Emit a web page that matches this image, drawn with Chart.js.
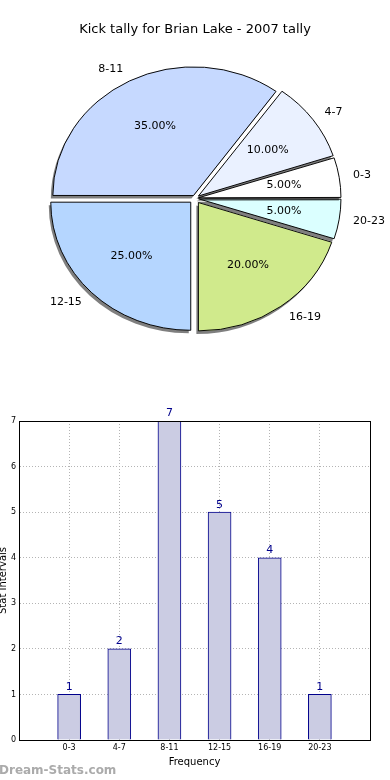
<!DOCTYPE html>
<html>
<head>
<meta charset="utf-8">
<script src="https://cdn.jsdelivr.net/npm/chart.js@4.4.0/dist/chart.umd.min.js"></script>
<style>
  html, body { margin: 0; padding: 0; background: #fff; }
  body { width: 390px; height: 780px; position: relative; overflow: hidden; }
  #pieWrap { position: absolute; left: 0; top: 0; width: 390px; height: 396px; }
  #barWrap { position: absolute; left: 0; top: 400px; width: 390px; height: 380px; }
  #mark { position: absolute; left: -1px; top: 763px; font: bold 12px 'DejaVu Sans', sans-serif; color: #ababab; }
</style>
</head>
<body>
<div id="pieWrap"><canvas id="pieChart"></canvas></div>
<div id="barWrap"><canvas id="barChart"></canvas></div>
<div id="mark">Dream-Stats.com</div>
<script>
// Kick tally data (matplotlib order: counter-clockwise from 3 o'clock)
const categories = ['0-3', '4-7', '8-11', '12-15', '16-19', '20-23'];
const kickCounts = [1, 2, 7, 5, 4, 1];
const yTicks = [0, 1, 2, 3, 4, 5, 6, 7];

const chartTitle = 'Kick tally for Brian Lake - 2007 tally';

Chart.defaults.font.family = "'DejaVu Sans', sans-serif";
Chart.defaults.color = '#000';
Chart.defaults.animation = false;

// slice colours and explode distance, same order as categories
const sliceColors = ['#ffffff', '#eaf1ff', '#c6d9ff', '#b5d6ff', '#d0ea8c', '#dbffff'];
const explodePx = [6, 6, 4, 6, 6, 6];
const ySquash = 0.915;   // the original pie is a bit flat

// Chart.js goes clockwise, so feed the slices reversed
const pieLabels = categories.slice().reverse();
const pieValues = kickCounts.slice().reverse();
const pieColors = sliceColors.slice().reverse();
const pieExplode = explodePx.slice().reverse();
const total = kickCounts.reduce((a, b) => a + b, 0);

// squash + shadow (fill only) around the arcs
const ellipsePlugin = {
    id: 'ellipse',
    beforeDatasetsDraw(chart) {
        const arc = chart.getDatasetMeta(0).data[0];
        const ctx = chart.ctx;
        ctx.save();
        ctx.translate(arc.x, arc.y);
        ctx.scale(1, ySquash);
        ctx.translate(-arc.x, -arc.y);
        ctx.shadowColor = 'rgba(0,0,0,0.5)';
        ctx.shadowOffsetX = -2;
        ctx.shadowOffsetY = 3;
        ctx.shadowBlur = 0;
        // no shadow on the outlines
        const origStroke = ctx.stroke;
        ctx.stroke = function () {
            const c = this.shadowColor;
            this.shadowColor = 'rgba(0,0,0,0)';
            origStroke.apply(this, arguments);
            this.shadowColor = c;
        };
        chart.$origStroke = origStroke;
    },
    afterDatasetsDraw(chart) {
        const ctx = chart.ctx;
        ctx.stroke = chart.$origStroke;
        ctx.restore();
    }
};

// outer category labels and inner percentages
const pieLabelPlugin = {
    id: 'pieLabels',
    afterDraw(chart) {
        const ctx = chart.ctx;
        const meta = chart.getDatasetMeta(0);
        ctx.save();
        ctx.fillStyle = '#000';
        ctx.font = "11px 'DejaVu Sans', sans-serif";
        ctx.textBaseline = 'middle';
        meta.data.forEach((arc, i) => {
            const a = (arc.startAngle + arc.endAngle) / 2;
            const r = arc.outerRadius;
            const d = pieExplode[i];
            const cos = Math.cos(a), sin = Math.sin(a);
            // outer label
            const lx = arc.x + (d + 1.1 * r) * cos;
            const ly = arc.y + (d + 1.1 * r) * sin * ySquash;
            ctx.textAlign = cos > 0 ? 'left' : 'right';
            ctx.fillText(pieLabels[i], lx, ly);
            // percentage
            const px = arc.x + (d + 0.6 * r) * cos;
            const py = arc.y + (d + 0.6 * r) * sin * ySquash;
            ctx.textAlign = 'center';
            ctx.fillText((pieValues[i] / total * 100).toFixed(2) + '%', px, py);
        });
        ctx.restore();
    }
};

new Chart(document.getElementById('pieChart'), {
    type: 'pie',
    data: {
        labels: pieLabels,
        datasets: [{
            data: pieValues,
            backgroundColor: pieColors,
            borderColor: '#000',
            borderWidth: 1,
            radius: 140,
            // Chart.js moves an arc by offset/4 * (1 + fix), undo that
            offset: (c) => {
                const circ = pieValues[c.dataIndex] / total * Math.PI * 2;
                const fix = 1 - Math.sin(Math.min(Math.PI, circ));
                return 4 * pieExplode[c.dataIndex] / (1 + fix);
            }
        }]
    },
    options: {
        responsive: true,
        maintainAspectRatio: false,
        rotation: 90,
        events: [],
        layout: { padding: { top: 0, bottom: 37, left: 0, right: 0 } },
        plugins: {
            legend: { display: false },
            tooltip: { enabled: false },
            title: {
                display: true,
                text: chartTitle,
                color: '#000',
                font: { size: 13, weight: 'normal' },
                padding: { top: 22, bottom: 0 }
            }
        }
    },
    plugins: [ellipsePlugin, pieLabelPlugin]
});

// ---- bar chart ----
const frameBox = {
    id: 'frameBox',
    afterDraw(chart) {
        const { ctx, chartArea: a } = chart;
        ctx.save();
        ctx.strokeStyle = '#000';
        ctx.lineWidth = 1;
        ctx.strokeRect(Math.round(a.left) + 0.5, Math.round(a.top) + 0.5,
            Math.round(a.right - a.left), Math.round(a.bottom - a.top));
        ctx.restore();
    }
};

const barValuePlugin = {
    id: 'barValues',
    afterDraw(chart) {
        const ctx = chart.ctx;
        const meta = chart.getDatasetMeta(0);
        ctx.save();
        ctx.fillStyle = '#00008b';
        ctx.font = "11px 'DejaVu Sans', sans-serif";
        ctx.textAlign = 'center';
        ctx.textBaseline = 'bottom';
        meta.data.forEach((bar, i) => {
            ctx.fillText(String(kickCounts[i]), bar.x, bar.y - 2);
        });
        ctx.restore();
    }
};

new Chart(document.getElementById('barChart'), {
    type: 'bar',
    data: {
        datasets: [{
            label: 'Frequency',
            data: kickCounts.map((v, i) => ({ x: i + 1, y: v })),
            backgroundColor: '#cbcce3',
            borderColor: '#00008b',
            borderWidth: 1,
            barThickness: 23
        }]
    },
    options: {
        responsive: true,
        maintainAspectRatio: false,
        events: [],
        layout: { padding: { top: 21, right: 20, bottom: 12, left: 0 } },
        plugins: {
            legend: { display: false },
            tooltip: { enabled: false }
        },
        scales: {
            x: {
                type: 'linear',
                min: 0,
                max: categories.length + 1,
                offset: false,
                z: 1,
                afterFit: (s) => { s.height = 28; },
                afterBuildTicks: (s) => {
                    s.ticks = categories.map((c, i) => ({ value: i + 1 }));
                },
                ticks: {
                    font: { size: 8 },
                    color: '#000',
                    padding: 3,
                    maxRotation: 0,
                    callback: (v) => categories[v - 1] || ''
                },
                grid: { color: '#b4b4b4', drawTicks: false, offset: false },
                border: { color: '#000', dash: [1, 2] },
                title: {
                    display: true,
                    text: 'Frequency',
                    font: { size: 10 },
                    color: '#000',
                    padding: { top: 0, bottom: 0 }
                }
            },
            y: {
                min: 0,
                max: 7,
                z: 1,
                afterFit: (s) => { s.width = 19; },
                afterBuildTicks: (s) => {
                    s.ticks = yTicks.map(v => ({ value: v }));
                },
                ticks: {
                    font: { size: 8 },
                    color: '#000',
                    padding: 3
                },
                grid: { color: '#b4b4b4', drawTicks: false },
                border: { color: '#000', dash: [1, 2] },
                title: {
                    display: true,
                    text: 'Stat Intervals',
                    font: { size: 10 },
                    color: '#000',
                    padding: { top: -3, bottom: 0 }
                }
            }
        }
    },
    plugins: [frameBox, barValuePlugin]
});
</script>
</body>
</html>
